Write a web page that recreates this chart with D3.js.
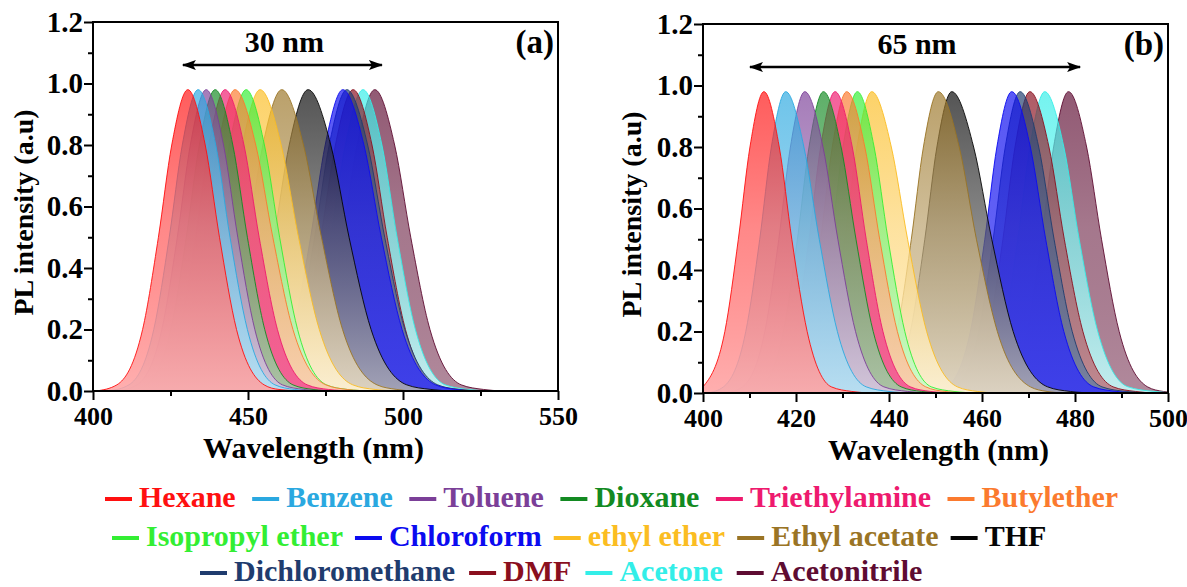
<!DOCTYPE html>
<html><head><meta charset="utf-8">
<script src="https://cdn.jsdelivr.net/npm/d3@7"></script>
<style>
body{margin:0;background:#fff}
svg{display:block}
text{font-family:"Liberation Serif","Times New Roman",serif;font-weight:bold}
</style>
</head><body>
<svg id="c" width="1187" height="587"></svg>
<script>
// ---------- DATA ----------
const solvents = ["Hexane","Benzene","Toluene","Dioxane","Triethylamine","Butylether","Isopropyl ether","Chloroform","ethyl ether","Ethyl acetate","THF","Dichloromethane","DMF","Acetone","Acetonitrile"];
const colors = ["#ff1010","#2aa8e0","#7b3f98","#138a22","#ee1a6e","#fb7a2e","#33ee33","#0b0bf0","#fbbd22","#9a7425","#050505","#1f3c6e","#8a0f1e","#33eee8","#5e0c32"];
// how much the lower part of each fill fades toward white (style)
const fade = [0.62,0.65,0.7,0.6,0.25,0.6,0.75,0.18,0.8,0.72,0.68,0.35,0.45,0.72,0.45];
// intensity levels at which each spectrum's wavelength was read (rise -> peak -> tail)
const levels = [0,0.02,0.2,0.5,0.8,0.98,0.8,0.5,0.2,0.02,0.005,0];
// panel (a): wavelengths (nm) per solvent at the levels above
const wlA = [
  [401,407.7,416.0,421.1,425.4,430.6,436.2,440.8,446.3,455.2,460,468],   // Hexane
  [405,411.6,419.6,424.6,428.8,433.9,439.6,444.2,449.8,458.7,465,472],   // Benzene
  [408,414.2,422.2,427.2,431.4,436.5,442.1,446.7,452.2,461.1,468,475],   // Toluene
  [411,417.1,425.1,430.1,434.3,439.4,445.1,449.8,455.4,464.5,471,478],   // Dioxane
  [414,419.7,428.0,433.1,437.4,442.6,448.7,453.6,459.5,469.1,476,484],   // Triethylamine
  [417,422.1,430.6,435.9,440.4,445.8,452.5,458.0,464.5,475.1,482,490],   // Butylether
  [420,425.7,434.2,439.5,444.0,449.4,455.3,460.2,466.0,475.3,482,490],   // Isopropyl ether
  [449,455.5,464.6,470.2,474.9,480.6,487.4,493.0,499.7,510.5,517,523],   // Chloroform
  [423,428.8,437.9,443.5,448.2,453.9,460.7,466.3,473.0,483.8,491,499],   // ethyl ether
  [428,434.4,444.0,449.9,454.8,460.9,467.9,473.7,480.5,491.6,498,503],   // Ethyl acetate
  [436,442.9,452.5,458.4,463.3,469.4,476.7,482.6,489.7,501.2,509,516],   // THF
  [450,456.8,465.9,471.5,476.2,481.9,488.6,494.1,500.6,511.2,518,524],   // Dichloromethane
  [452,458.8,467.9,473.5,478.2,483.9,490.0,494.9,500.8,510.4,518,526],   // DMF
  [455,462.0,471.1,476.7,481.4,487.1,493.2,498.1,504.0,513.6,521,528],   // Acetone
  [459,465.8,474.9,480.5,485.2,490.9,497.3,502.5,508.7,518.8,526,532]    // Acetonitrile
];
// panel (b)
const wlB = [
  [398,400.0,404.7,407.6,410.1,413.1,416.4,419.1,422.4,427.6,432,436],
  [401,404.4,409.2,412.2,414.7,417.8,421.7,425.0,428.9,435.1,440,445],
  [405,408.5,413.3,416.3,418.8,421.9,425.8,429.0,432.8,438.9,444,449],
  [409,412.5,417.3,420.3,422.8,425.9,429.7,432.9,436.6,442.6,447,452],
  [411,415.0,419.8,422.8,425.3,428.4,432.1,435.1,438.7,444.6,449,454],
  [414,417.5,422.3,425.3,427.8,430.9,434.8,438.0,441.8,447.9,452,457],
  [416,419.8,424.6,427.6,430.1,433.2,436.8,439.8,443.4,449.1,454,459],
  [448,452.4,457.5,460.6,463.2,466.4,470.4,473.7,477.6,484.0,489,494],
  [418,422.3,427.4,430.5,433.1,436.3,440.5,444.0,448.1,454.7,459,463],
  [432,436.6,441.7,444.8,447.4,450.6,455.1,458.8,463.3,470.4,474,478],
  [435,439.5,444.6,447.7,450.3,453.5,458.2,462.1,466.7,474.1,479,484],
  [450,454.2,459.3,462.4,465.0,468.2,472.2,475.5,479.4,485.8,491,496],
  [452,456.3,461.4,464.5,467.1,470.3,474.4,477.7,481.7,488.2,493,497],
  [455,459.5,464.6,467.7,470.3,473.5,477.6,480.9,484.9,491.4,497,502],
  [460,464.6,469.7,472.8,475.4,478.6,482.5,485.7,489.5,495.6,499,503]
];
const xTicksA = [400,450,500,550], xMinorA = [425,475,525];
const xTicksB = [400,420,440,460,480,500], xMinorB = [410,430,450,470,490];
const yTicks = [0,0.2,0.4,0.6,0.8,1.0,1.2], yMinor = [0.1,0.3,0.5,0.7,0.9,1.1];
const arrowA = [429,493.2], arrowB = [410.1,481.1];
const spanLabels = ["30 nm","65 nm"], panelTags = ["(a)","(b)"];
const xTitle = "Wavelength (nm)", yTitle = "PL intensity (a.u)";
const legendRows = [[0,1,2,3,4,5],[6,7,8,9,10],[11,12,13,14]];

// ---------- DRAW ----------
const svg = d3.select("#c");
const defs = svg.append("defs");
defs.append("marker").attr("id","arr").attr("viewBox","0 0 14 10")
  .attr("refX",13).attr("refY",5).attr("markerWidth",14).attr("markerHeight",10)
  .attr("markerUnits","userSpaceOnUse").attr("orient","auto-start-reverse")
  .append("path").attr("d","M0,0L14,5L0,10L3,5Z").attr("fill","#000");

function panel(cfg){
  const {id, xDomain, xRange, yRange, wl, xTicks, xMinor, arrow, spanLabel, tag, titleX, titleY, yTitleX} = cfg;
  const x = d3.scaleLinear().domain(xDomain).range(xRange);
  const y = d3.scaleLinear().domain([0,1.2]).range(yRange);
  const g = svg.append("g");
  defs.append("clipPath").attr("id","clip"+id).append("rect")
    .attr("x",xRange[0]).attr("y",yRange[1]).attr("width",xRange[1]-xRange[0]).attr("height",yRange[0]-yRange[1]);
  const area = d3.area().x(d=>x(d[0])).y0(y(0)).y1(d=>y(d[1])).curve(d3.curveMonotoneX);
  const line = d3.line().x(d=>x(d[0])).y(d=>y(d[1])).curve(d3.curveMonotoneX);
  const series = solvents.map((s,i)=>({name:s,i,pts:wl[i].map((w,j)=>[w,levels[j]])}));
  series.forEach(s=>{
    const gr = defs.append("linearGradient").attr("id",`g${id}${s.i}`)
      .attr("x1",0).attr("y1",0).attr("x2",0).attr("y2",1);
    const c = colors[s.i];
    gr.append("stop").attr("offset","0%").attr("stop-color",c).attr("stop-opacity",0.68);
    gr.append("stop").attr("offset","45%").attr("stop-color",d3.interpolateRgb(c,"#fff")(fade[s.i]*0.5)).attr("stop-opacity",0.72);
    gr.append("stop").attr("offset","100%").attr("stop-color",d3.interpolateRgb(c,"#fff")(fade[s.i])).attr("stop-opacity",0.88);
  });
  const order = series.slice().sort((a,b)=>wl[b.i][5]-wl[a.i][5]);
  const plot = g.append("g").attr("clip-path",`url(#clip${id})`);
  const sg = plot.selectAll("g.s").data(order).join("g").attr("class","s");
  sg.append("path").attr("d",d=>area(d.pts)).attr("fill",d=>`url(#g${id}${d.i})`);
  sg.append("path").attr("d",d=>line(d.pts)).attr("fill","none")
    .attr("stroke",d=>colors[d.i]).attr("stroke-width",1).attr("stroke-opacity",0.9);

  // axes
  const fmtY = d3.format(".1f");
  const ax = g.append("g").attr("transform",`translate(0,${yRange[0]})`)
    .call(d3.axisBottom(x).tickValues(xTicks).tickFormat(d3.format("d")).tickSize(9).tickPadding(7));
  const axm = g.append("g").attr("transform",`translate(0,${yRange[0]})`)
    .call(d3.axisBottom(x).tickValues(xMinor).tickFormat("").tickSize(5));
  const ay = g.append("g").attr("transform",`translate(${xRange[0]},0)`)
    .call(d3.axisLeft(y).tickValues(yTicks).tickFormat(fmtY).tickSize(9).tickPadding(1));
  const aym = g.append("g").attr("transform",`translate(${xRange[0]},0)`)
    .call(d3.axisLeft(y).tickValues(yMinor).tickFormat("").tickSize(5));
  [ax,axm,ay,aym].forEach(a=>{
    a.select(".domain").remove();
    a.selectAll(".tick line").attr("stroke","#000").attr("stroke-width",2);
    a.selectAll(".tick text").attr("fill","#000")
      .attr("font-family",'"Liberation Serif","Times New Roman",serif').attr("font-weight","bold");
  });
  ax.selectAll(".tick text").attr("font-size",26);
  ay.selectAll(".tick text").attr("font-size",29);
  g.append("rect").attr("x",xRange[0]).attr("y",yRange[1])
    .attr("width",xRange[1]-xRange[0]).attr("height",yRange[0]-yRange[1])
    .attr("fill","none").attr("stroke","#000").attr("stroke-width",2);

  // titles
  g.append("text").attr("x",(xRange[0]+xRange[1])/2 + titleX).attr("y",titleY)
    .attr("text-anchor","middle").attr("font-size",30).text(xTitle);
  g.append("text").attr("transform",`translate(${yTitleX},${(yRange[0]+yRange[1])/2+6}) rotate(-90)`)
    .attr("text-anchor","middle").attr("font-size",28).text(yTitle);

  // span arrow
  g.append("line").attr("x1",x(arrow[0])).attr("x2",x(arrow[1]))
    .attr("y1",y(1.06)).attr("y2",y(1.06)).attr("stroke","#000").attr("stroke-width",2.5)
    .attr("marker-start","url(#arr)").attr("marker-end","url(#arr)");
  g.append("text").attr("x",x((arrow[0]+arrow[1])/2)+2).attr("y",y(1.06)-13)
    .attr("text-anchor","middle").attr("font-size",30).text(spanLabel);
  g.append("text").attr("x",xRange[1]-4).attr("y",yRange[1]+31)
    .attr("text-anchor","end").attr("font-size",33).text(tag);
}

panel({id:"a",xDomain:[400,550],xRange:[93,558],yRange:[391,22],wl:wlA,xTicks:xTicksA,xMinor:xMinorA,
  arrow:arrowA,spanLabel:spanLabels[0],tag:panelTags[0],titleX:-12,titleY:458,yTitleX:33});
panel({id:"b",xDomain:[400,500],xRange:[703,1168],yRange:[393,24],wl:wlB,xTicks:xTicksB,xMinor:xMinorB,
  arrow:arrowB,spanLabel:spanLabels[1],tag:panelTags[1],titleX:3,titleY:460,yTitleX:641});

// legend
const rowStart = [105,112,200], rowY = [499,538,573], rowGap = [16.5,12,14];
const lg = svg.append("g");
legendRows.forEach((row,r)=>{
  let cx = rowStart[r];
  row.forEach(i=>{
    lg.append("line").attr("x1",cx).attr("x2",cx+27).attr("y1",rowY[r]).attr("y2",rowY[r])
      .attr("stroke",colors[i]).attr("stroke-width",4);
    const t = lg.append("text").attr("x",cx+34).attr("y",rowY[r]+8).attr("font-size",30)
      .attr("fill",colors[i]).text(solvents[i]);
    cx += 34 + t.node().getComputedTextLength() + rowGap[r];
  });
});
</script>
</body></html>
